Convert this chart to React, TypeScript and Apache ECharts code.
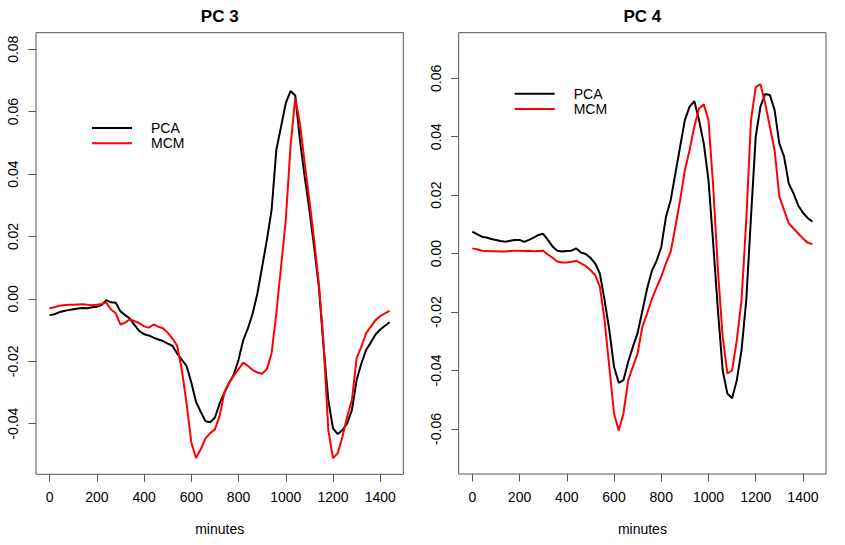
import { useEffect, useRef } from "react";
import * as echarts from "echarts";

// minutes of the day, sampled every 20 min
const minutes = [
  0, 20, 40, 60, 80, 100, 120, 140, 160, 180, 200, 220, 240, 260, 280, 300, 320, 340, 360, 380,
  400, 420, 440, 460, 480, 500, 520, 540, 560, 580, 600, 620, 640, 660, 680, 700, 720, 740, 760, 780,
  800, 820, 840, 860, 880, 900, 920, 940, 960, 980, 1000, 1020, 1040, 1060, 1080, 1100, 1120, 1140, 1160, 1180,
  1200, 1220, 1240, 1260, 1280, 1300, 1320, 1340, 1360, 1380, 1400, 1420, 1440,
];

// PC 3
const pca3 = [
  -0.0052, -0.0049, -0.0043, -0.0039, -0.0036, -0.0033, -0.0031, -0.0029, -0.003, -0.0027,
  -0.0025, -0.002, -0.0004, -0.0011, -0.0012, -0.004, -0.0052, -0.0063, -0.0084, -0.0103,
  -0.0113, -0.0117, -0.0124, -0.013, -0.0135, -0.0143, -0.015, -0.0175, -0.0195, -0.0215,
  -0.0268, -0.033, -0.0362, -0.0392, -0.0395, -0.038, -0.0335, -0.03, -0.027, -0.0242,
  -0.0195, -0.0132, -0.0094, -0.0046, 0.0018, 0.0103, 0.0189, 0.0285, 0.0477, 0.0552,
  0.0627, 0.0666, 0.0652, 0.0509, 0.0392, 0.0285, 0.0167, 0.0039, -0.0153, -0.0324,
  -0.0415, -0.0433, -0.042, -0.0399, -0.0356, -0.026, -0.0207, -0.0164, -0.014, -0.0114,
  -0.0098, -0.0086, -0.0075,
];
const mcm3 = [
  -0.003, -0.0027, -0.0022, -0.002, -0.0019, -0.0019, -0.0018, -0.0017, -0.0019, -0.002,
  -0.0019, -0.0016, -0.0012, -0.0034, -0.0046, -0.0082, -0.0076, -0.0065, -0.0071, -0.0078,
  -0.0088, -0.0092, -0.0082, -0.0089, -0.0094, -0.0108, -0.0127, -0.015, -0.0228, -0.0335,
  -0.046, -0.051, -0.0482, -0.0447, -0.043, -0.0418, -0.0375, -0.03, -0.0268, -0.0246,
  -0.0225, -0.0204, -0.0215, -0.0228, -0.0236, -0.024, -0.0225, -0.0174, -0.0046, 0.0103,
  0.0253, 0.0488, 0.0643, 0.0563, 0.0434, 0.0317, 0.0189, 0.005, -0.0142, -0.042,
  -0.051, -0.0495, -0.0442, -0.0377, -0.0324, -0.019, -0.0153, -0.011, -0.0089, -0.0068,
  -0.0055, -0.0046, -0.0038,
];

// PC 4
const pca4 = [
  0.0075, 0.0067, 0.0058, 0.0055, 0.005, 0.0047, 0.0043, 0.0041, 0.0044, 0.0047,
  0.0047, 0.004, 0.0047, 0.0055, 0.0064, 0.0068, 0.0047, 0.0024, 0.001, 0.0007,
  0.0009, 0.001, 0.0018, 0.0004, -0.0001, -0.0014, -0.0033, -0.0068, -0.0159, -0.0261,
  -0.0387, -0.0442, -0.0433, -0.037, -0.0319, -0.0271, -0.0196, -0.012, -0.006, -0.0025,
  0.0022, 0.0126, 0.0183, 0.0275, 0.0366, 0.0457, 0.0503, 0.0522, 0.0457, 0.0377,
  0.0252, 0.0035, -0.0193, -0.0399, -0.0479, -0.0495, -0.0433, -0.033, -0.0159, 0.0126,
  0.04, 0.0503, 0.0546, 0.0543, 0.0491, 0.0377, 0.0332, 0.024, 0.0206, 0.0165,
  0.014, 0.0122, 0.0109,
];
const mcm4 = [
  0.0018, 0.0015, 0.001, 0.0009, 0.0008, 0.0008, 0.0007, 0.0007, 0.0009, 0.001,
  0.001, 0.0009, 0.001, 0.0008, 0.0009, 0.001, -0.0003, -0.0014, -0.0027, -0.003,
  -0.003, -0.0028, -0.0025, -0.0033, -0.0042, -0.0056, -0.0073, -0.0113, -0.0227, -0.0387,
  -0.0547, -0.0605, -0.0547, -0.0433, -0.0387, -0.0341, -0.025, -0.0205, -0.0156, -0.0116,
  -0.0079, -0.0033, 0.0007, 0.0092, 0.0183, 0.0286, 0.0354, 0.0434, 0.0497, 0.0511,
  0.0457, 0.0229, -0.0056, -0.0285, -0.041, -0.0399, -0.0296, -0.0159, 0.0115, 0.0457,
  0.057, 0.058, 0.0514, 0.0434, 0.0354, 0.0195, 0.0149, 0.0104, 0.0086, 0.0069,
  0.0052, 0.0037, 0.0033,
];

const xTicks = [0, 200, 400, 600, 800, 1000, 1200, 1400];
const yTicks3 = [-0.04, -0.02, 0, 0.02, 0.04, 0.06, 0.08];
const yTicks4 = [-0.06, -0.04, -0.02, 0, 0.02, 0.04, 0.06];

const FONT = "'Liberation Sans', Arial, Helvetica, sans-serif";
const AXIS_GREY = "#555555";

const pairs = (vals: number[]) => minutes.map((m, i) => [m, vals[i]]);

function xAxisFor(gridIndex: number) {
  return {
    type: "value",
    gridIndex,
    min: -57.6,
    max: 1497.6,
    axisLine: { show: false, onZero: false },
    splitLine: { show: false },
    axisTick: {
      show: true,
      length: 7.5,
      customValues: xTicks,
      lineStyle: { color: AXIS_GREY, width: 1 },
    },
    axisLabel: {
      customValues: xTicks,
      margin: 16,
      fontSize: 14,
      color: "#000",
      fontFamily: FONT,
      formatter: (v: number) => String(v),
    },
  };
}

function yAxisFor(gridIndex: number, min: number, max: number, ticks: number[]) {
  return {
    type: "value",
    gridIndex,
    min,
    max,
    axisLine: { show: false, onZero: false },
    splitLine: { show: false },
    axisTick: {
      show: true,
      length: 7.5,
      customValues: ticks,
      lineStyle: { color: AXIS_GREY, width: 1 },
    },
    axisLabel: {
      customValues: ticks,
      rotate: 90,
      margin: 16,
      fontSize: 14,
      color: "#000",
      fontFamily: FONT,
      formatter: (v: number) => v.toFixed(2),
    },
  };
}

function legendAt(left: number, top: number) {
  return {
    data: [
      { name: "PCA", icon: "rect" },
      { name: "MCM", icon: "rect" },
    ],
    orient: "vertical",
    left,
    top,
    padding: 0,
    itemWidth: 40,
    itemHeight: 2,
    itemGap: 0.3,
    selectedMode: false,
    textStyle: {
      fontSize: 14,
      lineHeight: 15,
      color: "#000",
      fontFamily: FONT,
      padding: [0, 0, 0, 14],
    },
  };
}

function line(name: string, color: string, vals: number[], idx: number) {
  return {
    name,
    type: "line",
    xAxisIndex: idx,
    yAxisIndex: idx,
    data: pairs(vals),
    symbol: "none",
    color,
    itemStyle: { color },
    lineStyle: { color, width: 2 },
  };
}

export default function App() {
  const chartRef = useRef<HTMLDivElement>(null);

  useEffect(() => {
    if (!chartRef.current) return;
    const chart = echarts.init(chartRef.current, null, { renderer: "svg" });

    const option: any = {
      animation: false,
      backgroundColor: "#ffffff",
      grid: [
        {
          left: 36,
          top: 32.7,
          width: 367.3,
          height: 441.6,
          show: true,
          borderColor: AXIS_GREY,
          borderWidth: 1,
          backgroundColor: "transparent",
        },
        {
          left: 458.7,
          top: 32.7,
          width: 367.3,
          height: 441.3,
          show: true,
          borderColor: AXIS_GREY,
          borderWidth: 1,
          backgroundColor: "transparent",
        },
      ],
      xAxis: [xAxisFor(0), xAxisFor(1)],
      yAxis: [
        yAxisFor(0, -0.0562, 0.0853, yTicks3),
        yAxisFor(1, -0.0754, 0.0756, yTicks4),
      ],
      legend: [legendAt(92, 120.4), legendAt(514.7, 86.3)],
      graphic: [
        {
          type: "text",
          x: 219.7,
          y: 16.3,
          style: {
            text: "PC 3",
            font: `bold 17px ${FONT}`,
            fill: "#000",
            textAlign: "center",
            textVerticalAlign: "middle",
          },
        },
        {
          type: "text",
          x: 642.4,
          y: 16.3,
          style: {
            text: "PC 4",
            font: `bold 17px ${FONT}`,
            fill: "#000",
            textAlign: "center",
            textVerticalAlign: "middle",
          },
        },
        {
          type: "text",
          x: 219.7,
          y: 529,
          style: {
            text: "minutes",
            font: `14px ${FONT}`,
            fill: "#000",
            textAlign: "center",
            textVerticalAlign: "middle",
          },
        },
        {
          type: "text",
          x: 642.4,
          y: 529,
          style: {
            text: "minutes",
            font: `14px ${FONT}`,
            fill: "#000",
            textAlign: "center",
            textVerticalAlign: "middle",
          },
        },
      ],
      series: [
        line("PCA", "#000000", pca3, 0),
        line("MCM", "#ff0000", mcm3, 0),
        line("PCA", "#000000", pca4, 1),
        line("MCM", "#ff0000", mcm4, 1),
      ],
    };
    chart.setOption(option);

    return () => {
      chart.dispose();
    };
  }, []);

  return (
    <div
      ref={chartRef}
      style={{ position: "fixed", left: 0, top: 0, width: "845px", height: "545px", background: "#fff" }}
    />
  );
}
